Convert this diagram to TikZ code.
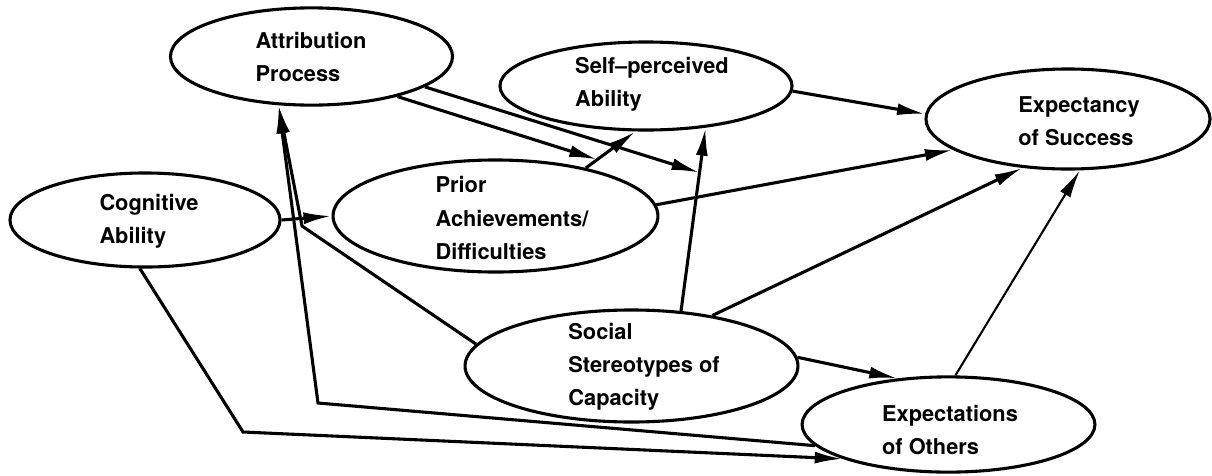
\documentclass[tikz,border=0pt]{standalone}
\usepackage{fontspec}
\setmainfont{TeX Gyre Heros}
\usetikzlibrary{shapes.geometric, arrows.meta}

\begin{document}
\begin{tikzpicture}[x=0.025cm, y=-0.025cm,
    oval/.style={draw, ellipse, line width=2.2pt, inner sep=0pt},
    txt/.style={font=\bfseries\fontsize{15.5}{23.5}\selectfont, align=left, inner sep=0pt},
    link/.style={line width=2.2pt},
    conn/.style={line width=2.2pt, -{Latex[length=0.7cm, width=0.3cm]}}
]
    \useasboundingbox (0,0) rectangle (1212,475);

    % Ellipses
    \node[oval, minimum width=7.05cm, minimum height=2.43cm] (attr) at (311.5,56.5) {};
    \node[oval, minimum width=7.3cm, minimum height=2.2cm] (self) at (646,86) {};
    \node[oval, minimum width=7.1cm, minimum height=2.5cm] (expc) at (1068,119) {};
    \node[oval, minimum width=6.75cm, minimum height=2.35cm] (cog) at (145,220) {};
    \node[oval, minimum width=8.12cm, minimum height=2.8cm] (prior) at (495.5,216) {};
    \node[oval, minimum width=8.32cm, minimum height=2.8cm] (social) at (631.5,366) {};
    \node[oval, minimum width=7.32cm, minimum height=2.38cm] (others) at (948.5,424.5) {};

    % Texts
    \node[txt] (attr-t) at (311,57) {Attribution\\Process};
    \node[txt] (self-t) at (652,84) {Self--perceived\\Ability};
    \node[txt] (expc-t) at (1079,121) {Expectancy\\of Success};
    \node[txt] (cog-t) at (149,221) {Cognitive\\Ability};
    \node[txt] (prior-t) at (512,218) {Prior\\Achievements/\\Difficulties};
    \node[txt] (social-t) at (644,367) {Social\\Stereotypes of\\Capacity};
    \node[txt] (others-t) at (950,430) {Expectations\\of Others};

    % Bends
    \coordinate (bendC) at (243,432);
    \coordinate (bendO) at (318,403);
    \coordinate (bendS) at (302,226);

    % Arrows into self-perceived ability
    \draw[conn] (prior.28) -- coordinate[pos=0.23] (onPS) (self.257);
    \draw[conn] (social.48) -- coordinate[pos=0.755] (onSS) (self.-35);
    \draw[conn] (attr.-25) -- (onPS);
    \draw[conn] (attr.-15) -- (onSS);

    % Arrows into expectancy
    \draw[conn] (self.-2) -- (expc.178);
    \draw[conn] (prior.4) -- (expc.195);
    \draw[conn] (social.32) -- (expc.227);
    \draw[conn, line width=1.5pt] (others.82) -- (expc.283);

    % Remaining links
    \draw[conn] (cog.0) -- (prior.180);
    \draw[conn] (social.3) -- (others.138);
    \draw[conn] (cog.264) -- (bendC) -- (others.198);
    \draw[conn] (others.189) -- (bendO) -- (attr.236);
    \draw[conn] (social.172) -- (bendS) -- (attr.236);
\end{tikzpicture}
\end{document}
